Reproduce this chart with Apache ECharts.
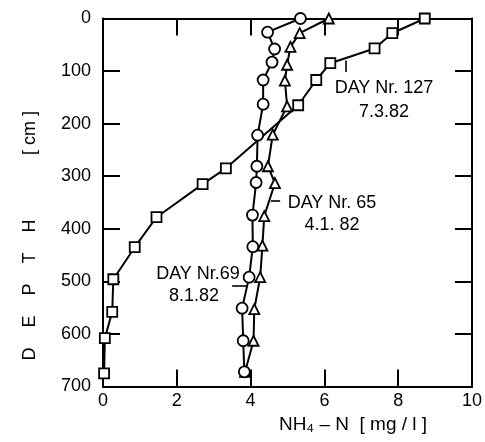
<!DOCTYPE html>
<html>
<head>
<meta charset="utf-8">
<script src="https://cdn.jsdelivr.net/npm/echarts@6/dist/echarts.min.js"></script>
<style>
  html, body { margin: 0; padding: 0; background: #fff; }
  #chart { width: 485px; height: 442px; }
</style>
</head>
<body>
<div id="chart"></div>
<script>
// NH4-N concentration profiles with depth for three sampling days
const xTicks = ['0', '2', '4', '6', '8', '10'];
const yTicks = ['0', '100', '200', '300', '400', '500', '600', '700'];

// DAY Nr. 127 (7.3.82) — squares
const depth127 = [0, 28, 57, 85, 117, 165, 285, 315, 378, 435, 496, 558, 608, 675];
const nh127 = [8.72, 7.84, 7.36, 6.16, 5.78, 5.29, 3.33, 2.70, 1.45, 0.86, 0.28, 0.25, 0.05, 0.03];

// DAY Nr. 65 (4.1.82) — triangles
const depth65 = [0, 28, 54, 88, 118, 167, 221, 281, 313, 376, 432, 492, 553, 613, 672];
const nh65 = [6.12, 5.33, 5.08, 4.99, 4.93, 4.99, 4.60, 4.47, 4.66, 4.37, 4.32, 4.26, 4.10, 4.08, 3.85];

// DAY Nr. 69 (8.1.82) — circles
const depth69 = [0, 26, 58, 83, 117, 163, 222, 281, 312, 374, 434, 492, 551, 613, 672];
const nh69 = [5.35, 4.46, 4.65, 4.58, 4.34, 4.34, 4.19, 4.17, 4.15, 4.05, 4.06, 3.96, 3.77, 3.80, 3.83];

const FONT = 'Liberation Sans';
const pairs = (xs, ys) => xs.map((x, i) => [x, ys[i]]);

const chart = echarts.init(document.getElementById('chart'), null, { renderer: 'canvas' });

// frame axes stay on the plot edges (no crossing at zero)
const axisLine = { show: true, onZero: false, lineStyle: { color: '#000', width: 2 } };
const tick = { show: true, inside: true, length: 17, lineStyle: { color: '#000', width: 2 } };

function leader(points) {
  return {
    silent: true,
    symbol: 'none',
    label: { show: false },
    lineStyle: { color: '#000', width: 1.6, type: 'solid' },
    emphasis: { disabled: true },
    data: [points.map(p => ({ coord: p }))]
  };
}

function profile(name, xs, ys, symbol, size, lead) {
  return {
    name: name,
    type: 'line',
    xAxisIndex: 0,
    yAxisIndex: 0,
    data: pairs(xs, ys),
    symbol: symbol,
    symbolSize: size,
    showAllSymbol: true,
    clip: false,
    lineStyle: { color: '#000', width: 2 },
    itemStyle: { color: '#fff', borderColor: '#000', borderWidth: 1.8 },
    emphasis: { disabled: true },
    markLine: leader(lead)
  };
}

chart.setOption({
  animation: false,
  backgroundColor: '#fff',
  grid: { left: 103, right: 11, top: 18.5, bottom: 55.5, containLabel: false },
  xAxis: [
    {
      type: 'value', position: 'bottom', min: 0, max: 10, interval: 2,
      axisLine: axisLine, axisTick: tick, splitLine: { show: false },
      axisLabel: {
        color: '#000', fontFamily: FONT, fontSize: 18, margin: 6,
        formatter: v => xTicks[Math.round(v / 2)]
      }
    },
    {
      type: 'value', position: 'top', min: 0, max: 10, interval: 2,
      axisLine: axisLine, axisTick: tick, splitLine: { show: false },
      axisLabel: { show: false }
    }
  ],
  yAxis: [
    {
      type: 'value', position: 'left', inverse: true, min: 0, max: 700, interval: 100,
      axisLine: axisLine, axisTick: tick, splitLine: { show: false },
      axisLabel: {
        color: '#000', fontFamily: FONT, fontSize: 18, margin: 12,
        formatter: v => yTicks[Math.round(v / 100)]
      }
    },
    {
      type: 'value', position: 'right', inverse: true, min: 0, max: 700, interval: 100,
      axisLine: axisLine, axisTick: tick, splitLine: { show: false },
      axisLabel: { show: false }
    }
  ],
  series: [
    profile('DAY Nr. 127', nh127, depth127, 'rect', 10, [[6.57, 80], [6.57, 102]]),
    profile('DAY Nr. 65', nh65, depth65, 'triangle', 10, [[4.55, 347], [4.80, 347]]),
    profile('DAY Nr. 69', nh69, depth69, 'circle', 11, [[3.50, 509], [3.91, 509]])
  ],
  graphic: [
    // axis titles
    {
      type: 'text', x: 30, y: 290, rotation: Math.PI / 2,
      style: { text: 'D    E    P    T    H', fill: '#000', font: '18px "' + FONT + '"', align: 'center', verticalAlign: 'middle' }
    },
    {
      type: 'text', x: 30, y: 133, rotation: Math.PI / 2,
      style: { text: '[ cm ]', fill: '#000', font: '18px "' + FONT + '"', align: 'center', verticalAlign: 'middle' }
    },
    {
      type: 'text', x: 353, y: 425,
      style: { text: 'NH\u2084 \u2013 N  [ mg / l ]', fill: '#000', font: '19px "' + FONT + '"', align: 'center', verticalAlign: 'middle' }
    },
    // series annotations
    {
      type: 'text', x: 384, y: 100,
      style: { text: 'DAY Nr. 127\n7.3.82', fill: '#000', font: '18px "' + FONT + '"', lineHeight: 24, align: 'center', verticalAlign: 'middle' }
    },
    {
      type: 'text', x: 332, y: 214,
      style: { text: 'DAY Nr. 65\n4.1. 82', fill: '#000', font: '18px "' + FONT + '"', lineHeight: 22, align: 'center', verticalAlign: 'middle' }
    },
    {
      type: 'text', x: 198, y: 274,
      style: { text: 'DAY Nr.69', fill: '#000', font: '18px "' + FONT + '"', align: 'center', verticalAlign: 'middle' }
    },
    {
      type: 'text', x: 194, y: 287,
      style: { text: '8.1.82', fill: '#000', font: '18px "' + FONT + '"', align: 'center', verticalAlign: 'top' }
    }
  ]
});
</script>
</body>
</html>
